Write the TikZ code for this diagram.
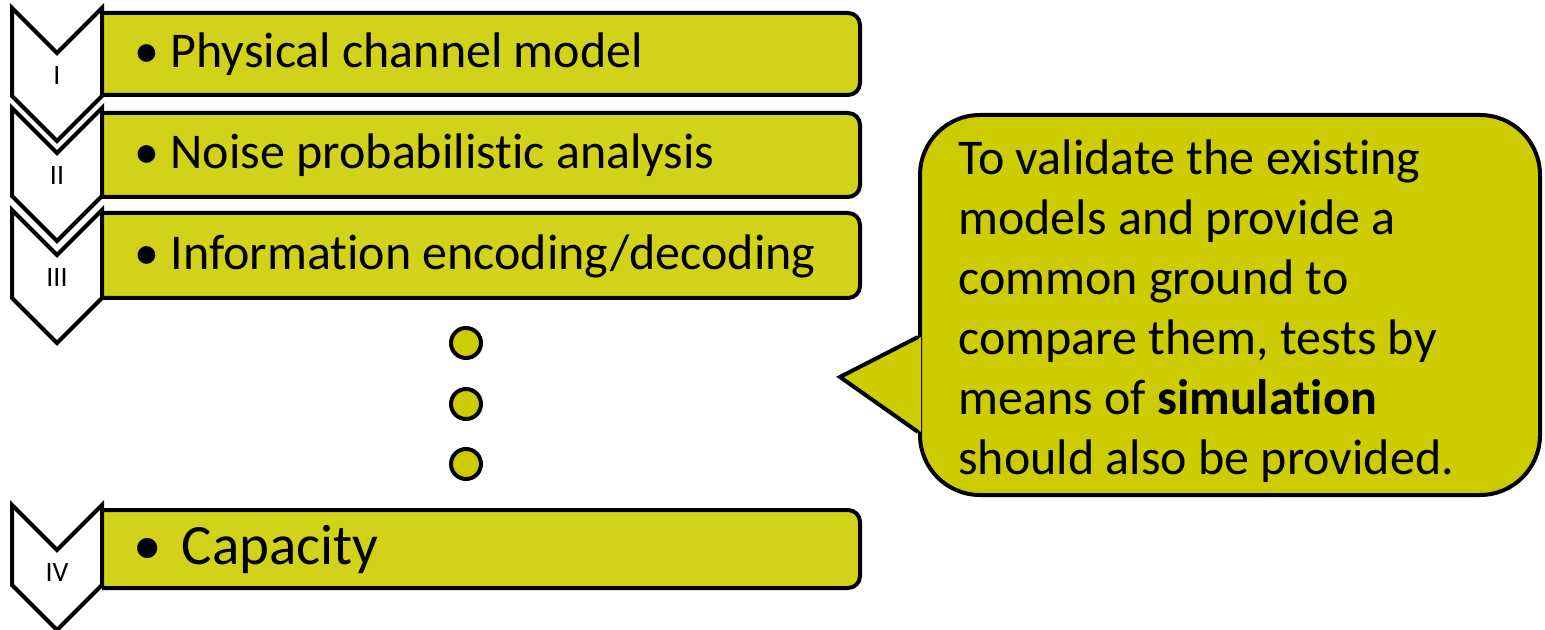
\documentclass[tikz,border=0pt]{standalone}
\usepackage{fontspec}
\setmainfont{Carlito}[Ligatures=NoCommon]
\usetikzlibrary{positioning}
\definecolor{stepfill}{RGB}{210,210,26}
\definecolor{notefill}{RGB}{204,204,0}
% keep t and i apart (no ti ligature)
\newcommand{\tI}{t\kern0pt i}

\begin{document}
\begin{tikzpicture}[
    x=0.5pt, y=-0.5pt,
    outline/.style={draw=black, line width=2pt},
    chevron/.style={outline, fill=white},
    stepbox/.style={outline, fill=stepfill, rounded corners=6pt},
    steptext/.style={anchor=west, inner sep=0pt, font=\fontsize{25}{30}\selectfont},
    numeral/.style={inner sep=0pt, font=\fontsize{14}{16}\selectfont},
    dot/.style={circle, outline, fill=notefill, minimum size=15pt, inner sep=0pt},
    callout/.style={rectangle, outline, fill=notefill, rounded corners=30pt, minimum width=310pt, minimum height=190pt},
    notetext/.style={anchor=north west, align=left, inner sep=0pt, font=\fontsize{25}{30}\selectfont}
]

\useasboundingbox (0,0) rectangle (1545,630);

% Step boxes, left edge hidden under the chevrons
\foreach \top/\bot in {13/95, 113/197, 213/298, 510/588}
  \filldraw[stepbox] (102,\top) -- (860,\top) -- (860,\bot) -- (102,\bot);

% Chevrons with roman numerals
\foreach \top/\len/\name/\num in {8/88/n1/I, 108/88/n2/II, 210/88/n3/III, 505/80/n4/IV} {
  \draw[chevron] (12,\top) -- (57,\top+45) -- (102,\top) -- (102,\top+\len)
    -- (57,\top+\len+45) -- (12,\top+\len) -- cycle;
  \node[numeral] (\name) at (57,\top+68) {\num};
}

% Step texts
\node[steptext] (t1) at (134,54) {\textbullet\ Physical channel model};
\node[steptext] (t2) at (134,155) {\textbullet\ Noise probabilis\tI c analysis};
\node[steptext] (t3) at (134,256) {\textbullet\ Informa\tI on encoding/decoding};
\node[steptext, font=\fontsize{28.5}{34}\selectfont] (t4) at (133,549) {\textbullet\hspace{0.35em}Capacity};

% Dots between the steps
\node[dot] (d1) at (466,343) {};
\node[dot] (d2) at (466,404) {};
\node[dot] (d3) at (466,464) {};

% Callout
\node[callout] (note) at (1230,305) {};
\coordinate (tip) at (840,377);
\path ([yshift=-16pt]note.west) coordinate (p1)
      ([yshift=-63.5pt]note.west) coordinate (p2);
\fill[notefill] ([xshift=1.5pt]p1) -- (tip) -- ([xshift=1.5pt]p2) -- cycle;
\draw[outline] (p1) -- (tip) -- (p2);

\node[notetext] (notetxt) at (958,139) {To validate the exis\tI ng\\models and provide a\\common ground to\\compare them, tests by\\means of \textbf{simula\tI on}\\should also be provided.};

\end{tikzpicture}
\end{document}
